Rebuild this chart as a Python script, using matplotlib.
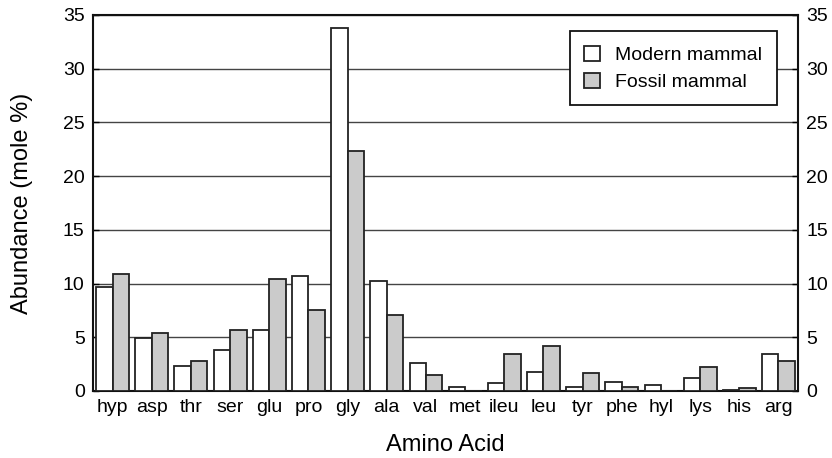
import matplotlib
matplotlib.use("Agg")
import matplotlib.pyplot as plt
import numpy as np

plt.rcParams['font.family'] = ['Liberation Sans', 'DejaVu Sans']

amino = ['hyp', 'asp', 'thr', 'ser', 'glu', 'pro', 'gly', 'ala', 'val',
         'met', 'ileu', 'leu', 'tyr', 'phe', 'hyl', 'lys', 'his', 'arg']
modern = [9.7, 4.9, 2.3, 3.8, 5.7, 10.7, 33.8, 10.2, 2.6,
          0.35, 0.7, 1.8, 0.35, 0.85, 0.55, 1.25, 0.1, 3.45]
fossil = [10.9, 5.4, 2.8, 5.7, 10.4, 7.5, 22.3, 7.1, 1.5,
          0.0, 3.4, 4.2, 1.65, 0.4, 0.0, 2.2, 0.3, 2.8]

x = np.arange(len(amino))
w = 0.42

fig = plt.figure(figsize=(8.32, 4.58), dpi=100)
ax = fig.add_axes([0.1118, 0.1463, 0.8474, 0.8210])

ax.bar(x - w / 2, modern, w, color='white', edgecolor='#222222',
       linewidth=1.3, label='Modern mammal', zorder=3)
ax.bar(x + w / 2, fossil, w, color='#cbcbcb', edgecolor='#222222',
       linewidth=1.3, label='Fossil mammal', zorder=3)

ax.set_xlim(-0.5, len(amino) - 0.5)
ax.set_ylim(0, 35)
ax.set_yticks(range(0, 36, 5))
ax.set_xticks(x)
ax.set_xticklabels(amino, fontsize=14)
ax.tick_params(axis='x', length=0, pad=6)
ax.tick_params(axis='y', direction='in', right=True, labelright=True,
               labelsize=14, length=4, width=1, pad=6)

ax.yaxis.grid(True, color='#444444', linewidth=1.0)
ax.set_axisbelow(True)
for s in ax.spines.values():
    s.set_linewidth(1.5)
    s.set_color('#111111')

ax.set_xlabel('Amino Acid', fontsize=17)
ax.set_ylabel('Abundance (mole %)', fontsize=17)
ax.xaxis.label.set_va('center')
ax.yaxis.label.set_va('center')
ax.xaxis.set_label_coords(0.5, -0.1436)
ax.yaxis.set_label_coords(-0.1007, 0.5)

leg = ax.legend(loc='upper right', bbox_to_anchor=(0.97, 0.957),
                borderaxespad=0, fontsize=14, fancybox=False, framealpha=1,
                edgecolor='#111111', handlelength=0.8, handleheight=0.8,
                borderpad=0.75, labelspacing=0.45, handletextpad=0.8)
leg.get_frame().set_linewidth(1.3)

fig.savefig('out.png', dpi=100)
